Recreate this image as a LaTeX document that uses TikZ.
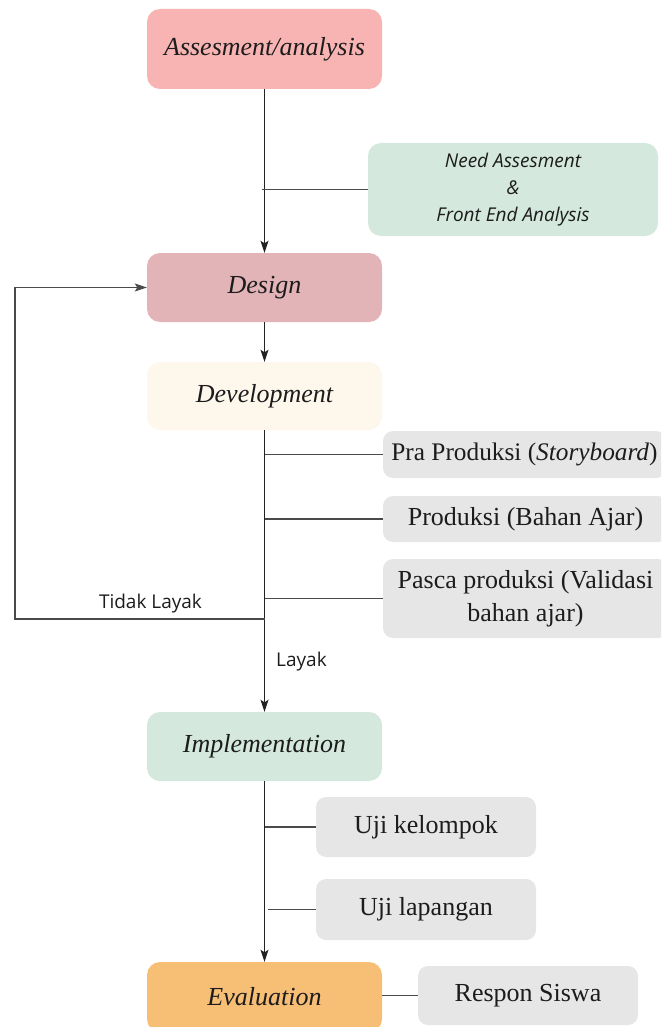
\documentclass[tikz,border=0pt]{standalone}
\usepackage{fontspec}
\setmainfont{Liberation Serif}
\newfontfamily\osans{Open Sans}
\usetikzlibrary{arrows.meta}
\definecolor{cAss}{HTML}{F8B4B3}
\definecolor{cNeed}{HTML}{D4E8DE}
\definecolor{cDes}{HTML}{E2B3B7}
\definecolor{cDev}{HTML}{FEF7EC}
\definecolor{cGray}{HTML}{E6E6E6}
\definecolor{cImp}{HTML}{D4E8DE}
\definecolor{cEva}{HTML}{F7BE76}
\definecolor{cTxt}{HTML}{1C1C1C}
\definecolor{cLine}{HTML}{222222}
\definecolor{cBranch}{HTML}{4A4A4A}
\begin{document}
\begin{tikzpicture}[x=1pt,y=-1pt,
  mainbox/.style={rounded corners=13pt, inner sep=0pt, minimum width=235pt, text=cTxt,
     font=\fontsize{26}{31}\selectfont\itshape},
  graybox/.style={rounded corners=10pt, inner sep=0pt, fill=cGray, text=cTxt,
     font=\fontsize{26}{33}\selectfont, align=center},
  flow/.style={draw=cLine, line width=1.4pt, -{Stealth[length=12pt,width=8pt,inset=2.5pt]}},
  branch/.style={draw=cBranch, line width=1.4pt},
  lbl/.style={inner sep=0pt, text=cTxt, font=\osans\fontsize{19}{23}\selectfont}]
\useasboundingbox (0,0) rectangle (661,1027);
\clip (0,0) rectangle (661,1027);

% main boxes
\node[mainbox, fill=cAss, minimum height=80pt] (ass) at (264.5,49) {Assesment/analysis};
\node[mainbox, fill=cDes, minimum height=69pt] (des) at (264.5,287.5) {Design};
\node[mainbox, fill=cDev, minimum height=68pt] (dev) at (264.5,396) {Development};
\node[mainbox, fill=cImp, minimum height=69pt] (imp) at (264.5,746.5) {Implementation};
\node[mainbox, fill=cEva, minimum height=70pt] (eva) at (264.5,997) {Evaluation};

% side boxes
\node[rounded corners=13pt, inner sep=0pt, fill=cNeed, minimum width=290pt, minimum height=93pt,
  align=center, text=cTxt, font=\osans\fontsize{19}{27}\selectfont\itshape] (need) at (513,189.5)
  {Need Assesment\\\&\\Front End Analysis};
\node[graybox, minimum width=283pt, minimum height=47pt, font=\fontsize{25.3}{32}\selectfont] (pra) at (524.5,454.5) {Pra Produksi (\textit{Storyboard})};
\node[graybox, minimum width=285pt, minimum height=46pt] (pro) at (525.5,519) {Produksi (Bahan Ajar)};
\node[graybox, minimum width=285pt, minimum height=79pt] (pas) at (525.5,598.5) {Pasca produksi (Validasi\\bahan ajar)};
\node[graybox, minimum width=220pt, minimum height=60pt] (uk) at (426,827) {Uji kelompok};
\node[graybox, minimum width=220pt, minimum height=61pt] (ul) at (426,909.5) {Uji lapangan};
\node[graybox, minimum width=220pt, minimum height=59pt] (rs) at (528,995.5) {Respon Siswa};

% labels
\node[lbl] (tl) at (150.5,604) {Tidak Layak};
\node[lbl] (ly) at (301.5,662) {Layak};

% main flow
\draw[flow] (ass.south) -- (des.north);
\draw[flow] (des.south) -- (dev.north);
\draw[flow] (dev.south) -- (imp.north);
\draw[flow] (imp.south) -- (eva.north);

% branches
\draw[branch] (need.west) -- ([xshift=-3pt]need.west -| ass.south);
\draw[branch] (pra.west) -- (pra.west -| dev.south);
\draw[branch] (pro.west) -- (pro.west -| dev.south);
\draw[branch] (pas.west) -- (pas.west -| dev.south);
\draw[branch] (uk.west) -- (uk.west -| imp.south);
\draw[branch] (ul.west) -- ([xshift=3pt]ul.west -| imp.south);
\draw[branch] (eva.east |- rs.west) -- (rs.west);

% feedback loop
\coordinate (fbs) at (264.5,619);
\coordinate (fbc) at (15,619);
\draw[flow, draw=cBranch] (fbs) -- (fbc) |- (des.west);
\end{tikzpicture}
\end{document}
